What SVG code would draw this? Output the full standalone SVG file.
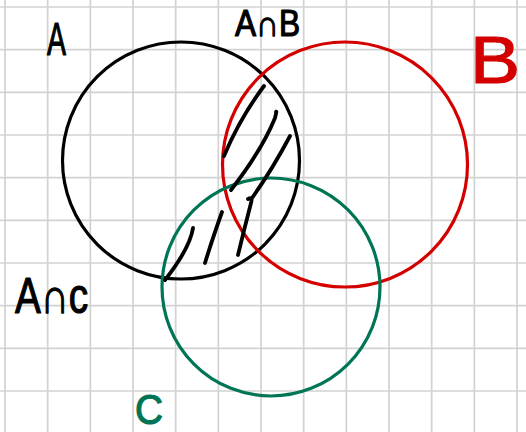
<svg xmlns="http://www.w3.org/2000/svg" width="526" height="432" viewBox="0 0 526 432">
<style>
.grid{stroke:#d2d2d2;stroke-width:1.7;fill:none}
.ring{fill:none;stroke-width:3.2}
.hatch{fill:none;stroke:#000;stroke-width:3.8;stroke-linecap:round;stroke-linejoin:round}
.lbl{font-family:"Liberation Sans","DejaVu Sans",sans-serif;stroke-width:1.2;stroke-linejoin:round}
</style>
<rect width="526" height="432" fill="#fff"/>
<g id="grid" class="grid">
<path d="M5 0V432M47.67 0V432M90.33 0V432M133 0V432M175.67 0V432M218.33 0V432M261 0V432M303.67 0V432M346.33 0V432M389 0V432M431.67 0V432M474.33 0V432M517 0V432"/>
<path d="M0 7H526M0 49.67H526M0 92.33H526M0 135H526M0 177.67H526M0 220.33H526M0 263H526M0 305.67H526M0 348.33H526M0 391H526"/>
</g>
<g id="setA"><circle class="ring" cx="181" cy="160.5" r="118.5" stroke="#000"/>
<text class="lbl" x="47" y="55" font-size="46" textLength="19" lengthAdjust="spacingAndGlyphs" fill="#000" stroke="#000">A</text></g>
<g id="setB"><circle class="ring" cx="345" cy="164.5" r="122.5" stroke="#d40000" stroke-width="3.6"/>
<text class="lbl" x="470" y="83" font-size="66" textLength="50" lengthAdjust="spacingAndGlyphs" fill="#d40000" stroke="#d40000">B</text></g>
<g id="setC"><circle class="ring" cx="271" cy="287" r="109" stroke="#007556"/>
<text class="lbl" x="135" y="424" font-size="42" textLength="28" lengthAdjust="spacingAndGlyphs" fill="#007556" stroke="#007556">C</text></g>
<g id="hatching" class="hatch">
<path d="M224 156Q240 118 264 86"/>
<path d="M231 190Q262 150 275 118Q277 110 276 112"/>
<path d="M290 136Q272 170 252 198"/>
<path d="M248 199Q253 196 251 203Q244 230 238 255"/>
<path d="M222 212Q212 240 205 263"/>
<path d="M193 228Q190 248 165 280"/>
</g>
<g id="labelAB"><text class="lbl" x="235" y="36" font-size="36" textLength="65" lengthAdjust="spacingAndGlyphs" fill="#000" stroke="#000">A∩B</text></g>
<g id="labelAC"><text class="lbl" x="15" y="313" font-size="50" textLength="73" lengthAdjust="spacingAndGlyphs" fill="#000" stroke="#000">A∩c</text></g>
</svg>
